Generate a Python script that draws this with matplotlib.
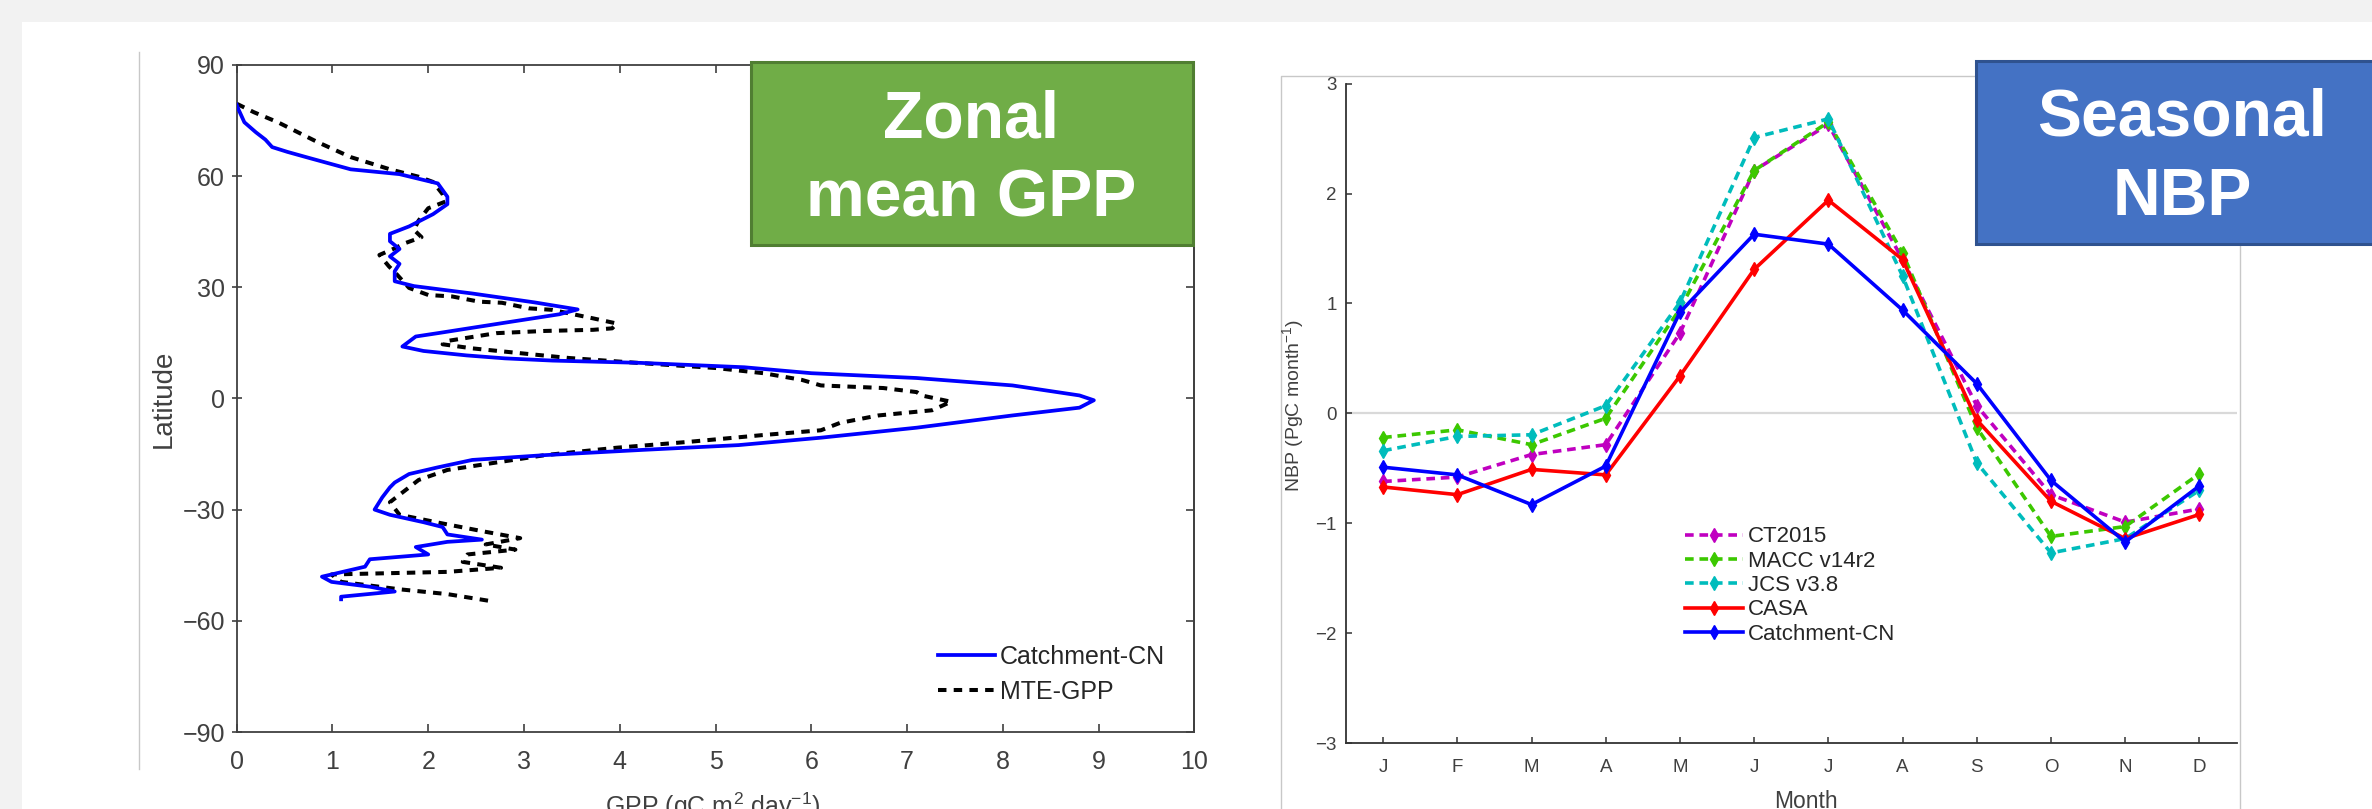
import matplotlib
matplotlib.use('Agg')
import matplotlib.pyplot as plt
from matplotlib.patches import Rectangle
from matplotlib.lines import Line2D

# ---------------- data ----------------
# Left panel: zonal mean GPP (gC m-2 day-1) vs latitude
lat_cn = [79.2, 77.9, 74.5, 71.8, 69.8, 67.8, 66.5, 64.7, 61.8, 60.5, 58.0, 54.4, 52.4,
          49.7, 46.4, 44.4, 42.4, 40.3, 38.3, 36.3, 34.3, 31.6, 30.3, 28.3, 25.9, 24.0,
          22.7, 20.3, 17.6, 16.7, 14.0, 12.8, 11.6, 10.8, 10.2, 9.6, 8.4, 6.8, 5.5, 3.5,
          0.8, -0.5, -2.5, -4.6, -7.9, -10.6, -12.6, -13.9, -15.3, -16.6, -18.6, -20.4,
          -22.7, -24.0, -26.7, -30.0, -31.4, -33.4, -34.7, -36.7, -38.1, -38.7, -40.1,
          -42.1, -43.4, -45.4, -48.1, -49.5, -50.8, -52.1, -53.5, -54.2]
gpp_cn = [0.00, 0.02, 0.08, 0.20, 0.30, 0.37, 0.53, 0.78, 1.19, 1.70, 2.10, 2.20, 2.20,
          2.05, 1.80, 1.60, 1.60, 1.70, 1.60, 1.70, 1.65, 1.65, 1.85, 2.46, 3.11, 3.56,
          3.37, 2.77, 2.10, 1.87, 1.73, 1.95, 2.40, 2.80, 3.30, 4.20, 5.30, 6.00, 7.10, 8.10,
          8.80, 8.95, 8.80, 8.10, 7.10, 6.10, 5.24, 4.23, 3.22, 2.46, 2.10, 1.80,
          1.65, 1.60, 1.52, 1.44, 1.60, 1.95, 2.15, 2.20, 2.56, 2.20, 1.87,
          2.00, 1.39, 1.34, 0.89, 0.99, 1.39, 1.65, 1.09, 1.09]

lat_mte = [79.5, 77.2, 74.5, 69.2, 65.1, 61.8, 59.8, 58.4, 55.1, 53.1, 51.3, 48.0, 45.5,
           43.5, 41.8, 40.6, 38.7, 35.6, 33.8, 29.8, 27.9, 27.5, 26.1, 25.8, 24.3, 23.9,
           21.6, 20.2, 18.9, 18.5, 18.2, 17.6, 15.5, 14.6, 13.5, 12.2, 10.9, 9.5, 8.2,
           6.8, 5.0, 3.5, 2.8, 1.7, 0.8, -0.9, -3.2, -4.6, -6.6, -8.6, -9.9, -11.7, -13.3,
           -15.3, -17.3, -19.3, -22.0, -26.0, -28.0, -31.4, -34.0, -36.0, -37.7, -39.4,
           -40.8, -42.1, -44.1, -45.7, -46.8, -47.5, -49.5, -51.5, -52.8, -54.8]
gpp_mte = [0.00, 0.18, 0.43, 0.84, 1.19, 1.60, 1.90, 2.05, 2.15, 2.18, 2.00, 1.90, 1.85,
           1.93, 1.75, 1.66, 1.49, 1.59, 1.66, 1.80, 2.00, 2.25, 2.53, 2.77, 3.05, 3.29,
           3.72, 3.97, 3.92, 3.72, 3.22, 2.71, 2.20, 2.15, 2.46, 2.96, 3.47, 4.23, 5.00,
           5.50, 5.90, 6.10, 6.75, 7.10, 7.15, 7.46, 7.26, 6.70, 6.30, 6.10, 5.49, 4.73, 3.97,
           3.22, 2.71, 2.20, 1.90, 1.70, 1.60, 1.70, 2.20, 2.60, 2.96, 2.60,
           2.91, 2.41, 2.36, 2.76, 2.20, 0.99, 1.09, 1.70, 2.20, 2.68]

gpp_ticks = list(range(0, 11))
lat_ticks = [-90, -60, -30, 0, 30, 60, 90]

# Right panel: seasonal NBP (PgC month-1)
months = ['J', 'F', 'M', 'A', 'M', 'J', 'J', 'A', 'S', 'O', 'N', 'D']
month_num = list(range(1, 13))
nbp_ct2015 = [-0.62, -0.58, -0.375, -0.285, 0.73, 2.21, 2.63, 1.40, 0.07, -0.74, -0.99, -0.87]
nbp_macc = [-0.22, -0.15, -0.285, -0.045, 0.95, 2.21, 2.65, 1.46, -0.13, -1.12, -1.03, -0.55]
nbp_jcs = [-0.34, -0.21, -0.195, 0.07, 1.01, 2.51, 2.68, 1.25, -0.45, -1.27, -1.14, -0.70]
nbp_casa = [-0.67, -0.74, -0.51, -0.56, 0.34, 1.31, 1.94, 1.40, -0.06, -0.80, -1.14, -0.92]
nbp_cn = [-0.49, -0.56, -0.83, -0.48, 0.92, 1.63, 1.54, 0.94, 0.27, -0.61, -1.17, -0.66]
nbp_ticks = [-3, -2, -1, 0, 1, 2, 3]

# ---------------- styling ----------------
W, H = 2372, 809
plt.rcParams['font.family'] = ['Liberation Sans', 'DejaVu Sans']
plt.rcParams['mathtext.fontset'] = 'custom'
plt.rcParams['mathtext.rm'] = 'Liberation Sans'
plt.rcParams['mathtext.it'] = 'Liberation Sans:italic'
plt.rcParams['mathtext.bf'] = 'Liberation Sans:bold'

TXT = '#404040'


def fx(px):
    return px / W


def fy(py):
    return 1 - py / H


fig = plt.figure(figsize=(W / 100, H / 100), dpi=100)
fig.patch.set_facecolor('white')

# slide background margins
fig.add_artist(Rectangle((0, fy(22)), 1, 22 / H, transform=fig.transFigure,
                         facecolor='#f2f2f2', edgecolor='none', zorder=-10))
fig.add_artist(Rectangle((0, 0), fx(22), 1, transform=fig.transFigure,
                         facecolor='#f2f2f2', edgecolor='none', zorder=-10))

# image borders
fig.add_artist(Line2D([fx(138.5), fx(138.5)], [fy(52), fy(769)], transform=fig.transFigure,
                      color='#c8c8c8', lw=1.0, zorder=-5))
fig.add_artist(Line2D([fx(1281), fx(1281), fx(1976)], [fy(809), fy(75.7), fy(75.7)],
                      transform=fig.transFigure, color='#c8c8c8', lw=1.0, zorder=-5))
fig.add_artist(Line2D([fx(2240), fx(2240)], [fy(243), fy(809)], transform=fig.transFigure,
                      color='#c8c8c8', lw=1.0, zorder=-5))

# ---------------- left panel ----------------
L0, L1, T1, B1 = 236.7, 1194.4, 64.8, 732.0
ax1 = fig.add_axes([fx(L0), fy(B1), (L1 - L0) / W, (B1 - T1) / H])
ax1.plot(gpp_cn, lat_cn, color='#0000ff', lw=2.7, label='Catchment-CN', zorder=3)
ax1.plot(gpp_mte, lat_mte, color='black', lw=2.9, dashes=(2.1, 1.8), label='MTE-GPP', zorder=2)
ax1.set_xlim(0, 10)
ax1.set_ylim(-90, 90)
ax1.set_xticks(gpp_ticks)
ax1.set_yticks(lat_ticks)
for s in ax1.spines.values():
    s.set_color('#404040')
    s.set_linewidth(1.3)
ax1.tick_params(axis='x', direction='in', top=True, length=6, width=1.2, color='#404040',
                labelsize=18, labelcolor=TXT, pad=13)
ax1.tick_params(axis='y', direction='inout', left=True, right=False, length=7, width=1.2,
                color='#404040', labelsize=18, labelcolor=TXT, pad=5)
sec = ax1.secondary_yaxis('right')
sec.set_yticks(lat_ticks)
sec.tick_params(direction='in', length=6, width=1.2, color='#404040', labelright=False)
sec.spines['right'].set_color('#404040')
sec.spines['right'].set_linewidth(1.3)
ax1.set_ylabel('Latitude', fontsize=20, color=TXT, va='center')
ax1.yaxis.set_label_coords((164 - L0) / (L1 - L0), 0.5)
ax1.legend(loc='center left', bbox_to_anchor=((938 - L0) / (L1 - L0), (B1 - 674.5) / (B1 - T1)),
           frameon=False, fontsize=18, handlelength=2.3, handletextpad=0.18,
           borderpad=0, borderaxespad=0, labelspacing=0.45, labelcolor='#262626')
fig.text(fx(713), fy(815), r'GPP (gC m$^2$ day$^{-1}$)', ha='center', va='baseline',
         fontsize=18, color=TXT)

# ---------------- right panel ----------------
R0, R1, T2, B2 = 1346.0, 2236.5, 83.7, 743.0
ax2 = fig.add_axes([fx(R0), fy(B2), (R1 - R0) / W, (B2 - T2) / H])
ax2.axhline(0, color='#d9d9d9', lw=1.6, zorder=0)
mk = dict(marker='d', markersize=7.5, lw=2.6)
ax2.plot(month_num, nbp_ct2015, color='#c000c0', dashes=(2.4, 1.6), label='CT2015', **mk)
ax2.plot(month_num, nbp_macc, color='#3cc800', dashes=(2.4, 1.6), label='MACC v14r2', **mk)
ax2.plot(month_num, nbp_jcs, color='#00bcbc', dashes=(2.4, 1.6), label='JCS v3.8', **mk)
ax2.plot(month_num, nbp_casa, color='#ff0000', label='CASA', **mk)
ax2.plot(month_num, nbp_cn, color='#0000ff', label='Catchment-CN', **mk)
ax2.set_xlim(0.5, 12.5)
ax2.set_ylim(-3, 3)
ax2.set_xticks(month_num)
ax2.set_xticklabels(months)
ax2.set_yticks(nbp_ticks)
ax2.spines['top'].set_visible(False)
ax2.spines['right'].set_visible(False)
for s in ('left', 'bottom'):
    ax2.spines[s].set_color('#333333')
    ax2.spines[s].set_linewidth(1.3)
ax2.tick_params(axis='x', direction='in', length=4.5, width=1.1, color='#333333',
                labelsize=13.5, labelcolor=TXT, pad=11.5)
ax2.tick_params(axis='y', direction='in', length=4.5, width=1.1, color='#333333',
                labelsize=13.5, labelcolor=TXT, pad=6.5)
ax2.set_ylabel(r'NBP (PgC month$^{-1}$)', fontsize=14, color=TXT, va='center')
ax2.yaxis.set_label_coords((1293 - R0) / (R1 - R0), (B2 - 405) / (B2 - T2))
ax2.legend(loc='center left', bbox_to_anchor=((1685 - R0) / (R1 - R0), (B2 - 585.5) / (B2 - T2)),
           frameon=False, fontsize=16, handlelength=2.6, handletextpad=0.22,
           borderpad=0, borderaxespad=0, labelspacing=0.15, labelcolor='#262626')
fig.text(fx(1806), fy(808), 'Month', ha='center', va='baseline', fontsize=16.5, color=TXT)

# ---------------- title boxes ----------------
fig.add_artist(Rectangle((fx(751), fy(245)), (1193 - 751) / W, (245 - 62) / H,
                         transform=fig.transFigure, facecolor='#70AD47', edgecolor='#507E32',
                         lw=2.2, zorder=5))
fig.add_artist(Rectangle((fx(1976), fy(243.6)), (2395 - 1976) / W, (243.6 - 61) / H,
                         transform=fig.transFigure, facecolor='#4472C4', edgecolor='#2F528F',
                         lw=2.2, zorder=5))
bt = dict(ha='center', va='baseline', color='white', fontsize=47.5, fontweight='bold', zorder=6)
fig.text(fx(971), fy(137), 'Zonal', **bt)
fig.text(fx(971), fy(216.3), 'mean GPP', **bt)
fig.text(fx(2182), fy(135.3), 'Seasonal', **bt)
fig.text(fx(2182), fy(214.8), 'NBP', **bt)

fig.savefig('out.png', dpi=100, facecolor=fig.get_facecolor())
